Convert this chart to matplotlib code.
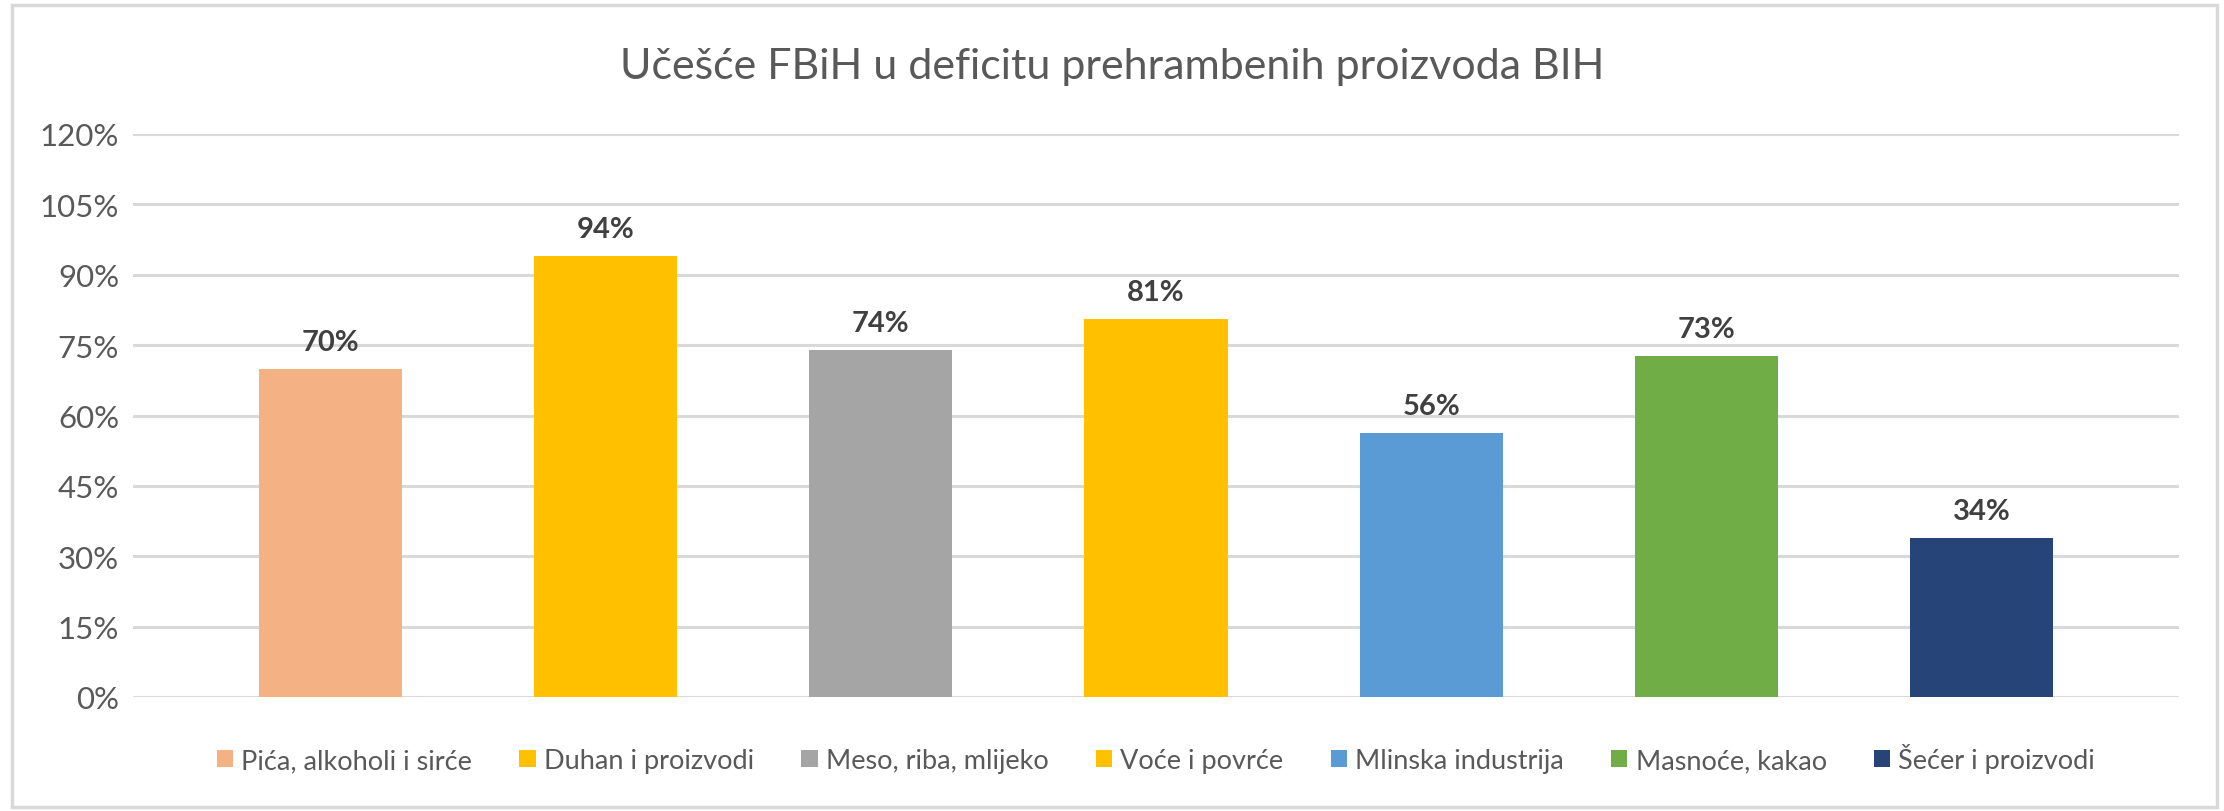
import matplotlib
matplotlib.use("Agg")
import matplotlib.pyplot as plt
from matplotlib.patches import Rectangle, Patch
from matplotlib.ticker import FuncFormatter

categories = ["Pića, alkoholi i sirće", "Duhan i proizvodi", "Meso, riba, mlijeko",
              "Voće i povrće", "Mlinska industrija", "Masnoće, kakao", "Šećer i proizvodi"]
values = [0.70, 0.94, 0.74, 0.806, 0.563, 0.727, 0.339]
colors = ["#F4B183", "#FFC000", "#A5A5A5", "#FFC000", "#5B9BD5", "#70AD47", "#264478"]
yticks = [0, 0.15, 0.30, 0.45, 0.60, 0.75, 0.90, 1.05, 1.20]
title = "Učešće FBiH u deficitu prehrambenih proizvoda BIH"

plt.rcParams['font.family'] = ['Lato', 'DejaVu Sans']

W, H = 2224, 812
fig = plt.figure(figsize=(W / 100, H / 100), dpi=100)
fig.patch.set_facecolor("white")

# outer chart border
fig.add_artist(Rectangle((12 / W, 4 / H), (2217 - 12) / W, (806 - 4) / H,
                         transform=fig.transFigure, fill=False,
                         edgecolor="#D9D9D9", linewidth=2.5))

ax = fig.add_axes([133 / W, 1 - 698 / H, (2179 - 133) / W, (698 - 135) / H])
x = list(range(len(categories)))
ax.bar(x, values, width=0.52, color=colors, zorder=3)

for xi, v in zip(x, values):
    ax.text(xi, v + 0.03, f"{round(v * 100):.0f}%", ha="center", va="bottom",
            fontsize=21, fontweight="bold", color="#404040", zorder=4)

ax.set_ylim(0, 1.2)
ax.set_xlim(-0.716, 6.716)
ax.set_yticks(yticks)
ax.yaxis.set_major_formatter(FuncFormatter(lambda v, p: f"{round(v * 100):.0f}%"))
ax.set_xticks([])
ax.grid(axis="y", color="#D9D9D9", linewidth=2.2, zorder=0)
for s in ax.spines.values():
    s.set_visible(False)
ax.tick_params(axis="y", length=0, pad=10, labelsize=22.5, labelcolor="#595959")

fig.text(0.5, 1 - 67 / H, title, ha="center", va="center", fontsize=31, color="#595959")

handles = [Patch(facecolor=c, edgecolor="none") for c in colors]
fig.legend(handles, categories, loc="center", bbox_to_anchor=(1156 / W, 1 - 759 / H),
           ncol=7, frameon=False, fontsize=19.5, labelcolor="#595959",
           handlelength=0.6, handleheight=0.6, handletextpad=0.3, columnspacing=1.75)

fig.savefig("out.png", dpi=100, facecolor="white")
